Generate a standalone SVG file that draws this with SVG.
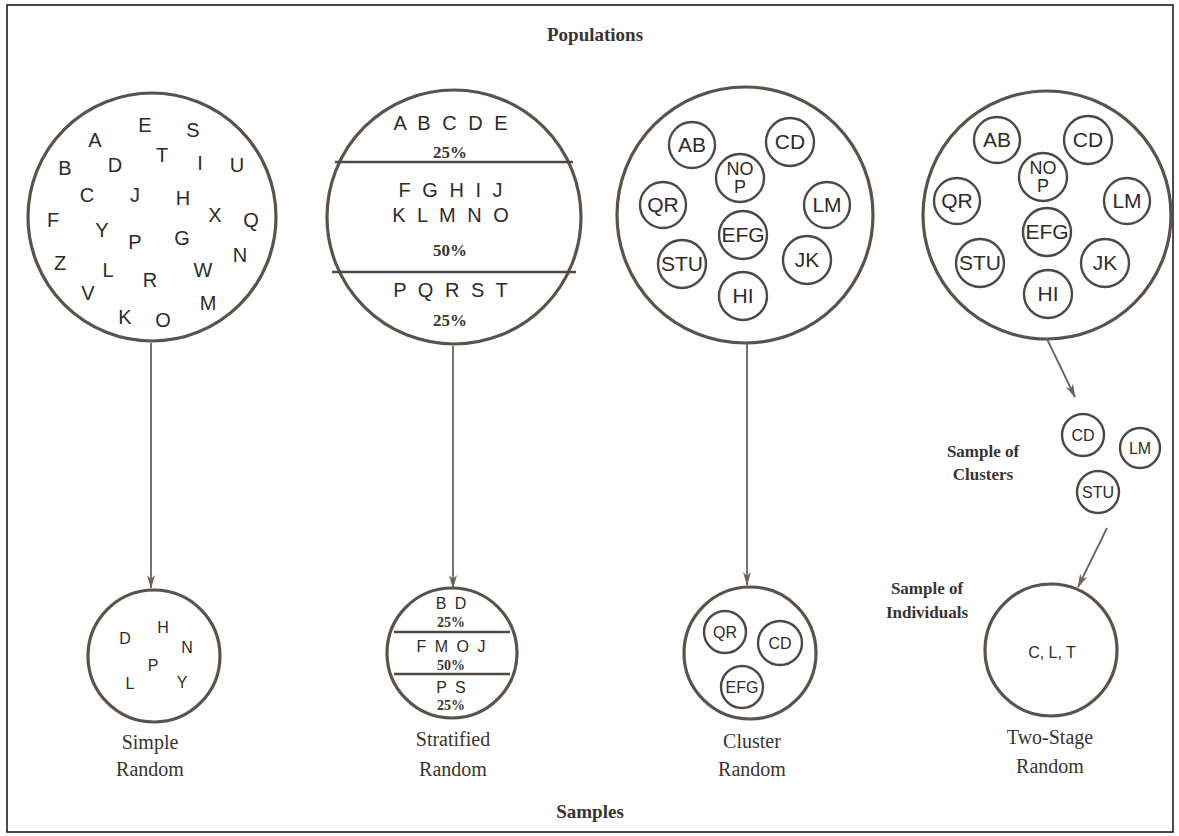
<svg xmlns="http://www.w3.org/2000/svg" width="1179" height="836" viewBox="0 0 1179 836">
<defs>
<style>
.bg{fill:#ffffff}
.frame{fill:none;stroke:#111;stroke-width:1.5}
.big{fill:none;stroke:#5b524c;stroke-width:3.2}
.sm{fill:none;stroke:#4f4743;stroke-width:2.4}
.div{stroke:#4f4743;stroke-width:2.6}
.conn{stroke:#6a625d;stroke-width:1.8;fill:none}
.L{font-family:"Liberation Sans",Arial,sans-serif;font-size:20px;fill:#2f2a28;text-anchor:middle}
.C{font-family:"Liberation Sans",Arial,sans-serif;font-size:21px;fill:#2f2a28;text-anchor:middle}
.N{font-family:"Liberation Sans",Arial,sans-serif;font-size:18px;fill:#2f2a28;text-anchor:middle}
.c2{font-family:"Liberation Sans",Arial,sans-serif;font-size:16px;fill:#2f2a28;text-anchor:middle}
.s{font-family:"Liberation Sans",Arial,sans-serif;font-size:16px;fill:#2f2a28;text-anchor:middle}
.pct{font-family:"Liberation Serif","Times New Roman",serif;font-size:17px;font-weight:bold;fill:#3a3330;text-anchor:middle}
.pcts{font-family:"Liberation Serif","Times New Roman",serif;font-size:14px;font-weight:bold;fill:#3a3330;text-anchor:middle}
.lab{font-family:"Liberation Serif","Times New Roman",serif;font-size:20px;fill:#3a3330;text-anchor:middle}
.lb{font-family:"Liberation Serif","Times New Roman",serif;font-size:17px;font-weight:bold;fill:#3a3330;text-anchor:middle}
.title{font-family:"Liberation Serif","Times New Roman",serif;font-size:19px;font-weight:bold;fill:#3a3330;text-anchor:middle}
</style>
<marker id="ah" markerWidth="14" markerHeight="10" refX="13" refY="5" orient="auto" markerUnits="userSpaceOnUse">
<path d="M0,1 L14,5 L0,9 L4,5 z" fill="#6a625d"/>
</marker>
</defs>
<rect class="bg" x="0" y="0" width="1179" height="836"/>
<rect class="frame" x="7" y="5" width="1166" height="827"/>

<text class="title" x="595" y="41">Populations</text>
<text class="title" x="590" y="818">Samples</text>

<g id="pop-simple">
<circle class="big" cx="152" cy="217" r="124"/>
<text class="L" x="95" y="147">A</text>
<text class="L" x="145" y="132">E</text>
<text class="L" x="193" y="137">S</text>
<text class="L" x="65" y="175">B</text>
<text class="L" x="115" y="172">D</text>
<text class="L" x="162" y="162">T</text>
<text class="L" x="200" y="170">I</text>
<text class="L" x="237" y="172">U</text>
<text class="L" x="87" y="202">C</text>
<text class="L" x="135" y="202">J</text>
<text class="L" x="183" y="205">H</text>
<text class="L" x="215" y="222">X</text>
<text class="L" x="251" y="227">Q</text>
<text class="L" x="53" y="227">F</text>
<text class="L" x="102" y="237">Y</text>
<text class="L" x="135" y="249">P</text>
<text class="L" x="182" y="245">G</text>
<text class="L" x="240" y="262">N</text>
<text class="L" x="60" y="270">Z</text>
<text class="L" x="108" y="277">L</text>
<text class="L" x="150" y="287">R</text>
<text class="L" x="203" y="277">W</text>
<text class="L" x="88" y="300">V</text>
<text class="L" x="125" y="324">K</text>
<text class="L" x="163" y="327">O</text>
<text class="L" x="208" y="310">M</text>
</g>

<g id="pop-stratified">
<circle class="big" cx="454" cy="217" r="127"/>
<line class="div" x1="335" y1="162" x2="573" y2="162"/>
<line class="div" x1="332" y1="272" x2="576" y2="272"/>
<text class="L" x="452" y="130" letter-spacing="3">A B C D E</text>
<text class="pct" x="450" y="158">25%</text>
<text class="L" x="452" y="197" letter-spacing="3">F G H I J</text>
<text class="L" x="452" y="222" letter-spacing="3">K L M N O</text>
<text class="pct" x="450" y="256">50%</text>
<text class="L" x="452" y="297" letter-spacing="3">P Q R S T</text>
<text class="pct" x="450" y="326">25%</text>
</g>

<g id="pop-cluster">
<circle class="big" cx="745" cy="215" r="128"/>
<circle class="sm" cx="692" cy="145" r="23"/><text class="C" x="692" y="152">AB</text>
<circle class="sm" cx="790" cy="142" r="24"/><text class="C" x="790" y="149">CD</text>
<circle class="sm" cx="740" cy="178" r="24"/><text class="N" x="740" y="175">NO</text><text class="N" x="740" y="193">P</text>
<circle class="sm" cx="663" cy="205" r="23"/><text class="C" x="663" y="212">QR</text>
<circle class="sm" cx="827" cy="205" r="23"/><text class="C" x="827" y="212">LM</text>
<circle class="sm" cx="743" cy="235" r="24"/><text class="C" x="743" y="242">EFG</text>
<circle class="sm" cx="682" cy="264" r="24"/><text class="C" x="682" y="271">STU</text>
<circle class="sm" cx="807" cy="260" r="24"/><text class="C" x="807" y="267">JK</text>
<circle class="sm" cx="743" cy="296" r="24"/><text class="C" x="743" y="303">HI</text>
</g>

<g id="pop-twostage">
<circle class="big" cx="1047" cy="215" r="124"/>
<circle class="sm" cx="997" cy="140" r="23"/><text class="C" x="997" y="147">AB</text>
<circle class="sm" cx="1088" cy="140" r="24"/><text class="C" x="1088" y="147">CD</text>
<circle class="sm" cx="1043" cy="177" r="24"/><text class="N" x="1043" y="174">NO</text><text class="N" x="1043" y="192">P</text>
<circle class="sm" cx="957" cy="201" r="23"/><text class="C" x="957" y="208">QR</text>
<circle class="sm" cx="1127" cy="201" r="23"/><text class="C" x="1127" y="208">LM</text>
<circle class="sm" cx="1047" cy="232" r="24"/><text class="C" x="1047" y="239">EFG</text>
<circle class="sm" cx="980" cy="263" r="24"/><text class="C" x="980" y="270">STU</text>
<circle class="sm" cx="1105" cy="263" r="24"/><text class="C" x="1105" y="270">JK</text>
<circle class="sm" cx="1048" cy="294" r="24"/><text class="C" x="1048" y="301">HI</text>
</g>

<g id="sample-clusters">
<circle class="sm" cx="1083" cy="435" r="21"/><text class="c2" x="1083" y="441">CD</text>
<circle class="sm" cx="1140" cy="448" r="20"/><text class="c2" x="1140" y="454">LM</text>
<circle class="sm" cx="1098" cy="492" r="21"/><text class="c2" x="1098" y="498">STU</text>
<text class="lb" x="983" y="457">Sample of</text>
<text class="lb" x="983" y="480">Clusters</text>
</g>

<g id="smp-simple">
<circle class="big" cx="154" cy="656" r="66"/>
<text class="s" x="125" y="644">D</text>
<text class="s" x="163" y="633">H</text>
<text class="s" x="187" y="653">N</text>
<text class="s" x="153" y="671">P</text>
<text class="s" x="130" y="689">L</text>
<text class="s" x="182" y="688">Y</text>
<text class="lab" x="150" y="749">Simple</text>
<text class="lab" x="150" y="776">Random</text>
</g>

<g id="smp-stratified">
<circle class="big" cx="452" cy="653" r="65"/>
<line class="div" x1="394" y1="632" x2="510" y2="632"/>
<line class="div" x1="394" y1="674" x2="510" y2="674"/>
<text class="s" x="452" y="609" letter-spacing="2">B D</text>
<text class="pcts" x="451" y="627">25%</text>
<text class="s" x="452" y="652" letter-spacing="2">F M O J</text>
<text class="pcts" x="451" y="670">50%</text>
<text class="s" x="452" y="693" letter-spacing="2">P S</text>
<text class="pcts" x="451" y="710">25%</text>
<text class="lab" x="453" y="746">Stratified</text>
<text class="lab" x="453" y="776">Random</text>
</g>

<g id="smp-cluster">
<circle class="big" cx="750" cy="653" r="66"/>
<circle class="sm" cx="725" cy="632" r="21"/><text class="c2" x="725" y="638">QR</text>
<circle class="sm" cx="780" cy="643" r="22"/><text class="c2" x="780" y="649">CD</text>
<circle class="sm" cx="742" cy="687" r="21"/><text class="c2" x="742" y="693">EFG</text>
<text class="lab" x="752" y="748">Cluster</text>
<text class="lab" x="752" y="776">Random</text>
</g>

<g id="smp-twostage">
<circle class="big" cx="1051" cy="650" r="66"/>
<text class="s" x="1052" y="658">C, L, T</text>
<text class="lb" x="927" y="594">Sample of</text>
<text class="lb" x="927" y="618">Individuals</text>
<text class="lab" x="1050" y="744">Two-Stage</text>
<text class="lab" x="1050" y="773">Random</text>
</g>

<g id="connectors">
<line class="conn" x1="151" y1="343" x2="151" y2="588" marker-end="url(#ah)"/>
<line class="conn" x1="453" y1="346" x2="453" y2="588" marker-end="url(#ah)"/>
<line class="conn" x1="747" y1="343" x2="747" y2="585" marker-end="url(#ah)"/>
<line class="conn" x1="1047" y1="339" x2="1075" y2="397" marker-end="url(#ah)"/>
<line class="conn" x1="1107" y1="528" x2="1078" y2="587" marker-end="url(#ah)"/>
</g>
</svg>
